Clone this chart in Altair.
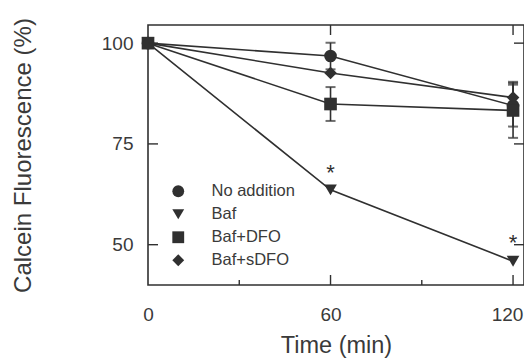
import altair as alt
import pandas as pd

time = [0, 60, 120]
series = ["No addition", "Baf", "Baf+DFO", "Baf+sDFO"]
shapes = ["circle", "triangle-down", "square", "diamond"]

no_addition = [100, 96.8, 84.5]
no_addition_err = [0, 3.3, 5.2]
baf = [100, 63.6, 45.9]
baf_err = [0, 0, 0]
baf_dfo = [100, 84.9, 83.3]
baf_dfo_err = [0, 4.2, 6.8]
baf_sdfo = [100, 92.6, 86.5]
baf_sdfo_err = [0, 0, 3.9]

star_time = [60, 120]
star_value = [69.0, 51.7]

x_major = [60, 120]
x_minor = [30, 90]
y_major = [50, 75, 100]

INK = "#303030"
TXT = "#3a3a3a"

rows = []
for name, vals, errs in [
    ("No addition", no_addition, no_addition_err),
    ("Baf", baf, baf_err),
    ("Baf+DFO", baf_dfo, baf_dfo_err),
    ("Baf+sDFO", baf_sdfo, baf_sdfo_err),
]:
    for t, v, e in zip(time, vals, errs):
        rows.append({"series": name, "time": t, "value": v, "err": e,
                     "lo": v - e, "hi": v + e})
df = pd.DataFrame(rows)
df_err = df[df["err"] > 0]

stars = pd.DataFrame({"time": star_time, "value": star_value, "s": ["*"] * len(star_time)})
xmaj = pd.DataFrame({"time": x_major})
xmin = pd.DataFrame({"time": x_minor})
ymaj = pd.DataFrame({"value": y_major})

W, H = 376, 260

x_enc = alt.X(
    "time:Q",
    scale=alt.Scale(domain=[0, 123.6], nice=False),
    axis=alt.Axis(values=[0, 60, 120], ticks=False, tickSize=0, domain=False, grid=False,
                  labelFontSize=19, labelPadding=20, labelFlush=False,
                  labelOffset={"condition": {"test": "datum.value == 120", "value": -6},
                               "value": 0},
                  title="Time (min)", titleFontSize=23.5, titleFontWeight="normal",
                  titlePadding=9),
)
y_enc = alt.Y(
    "value:Q",
    scale=alt.Scale(domain=[40, 104.5], nice=False, zero=False),
    axis=alt.Axis(values=[50, 75, 100], ticks=False, tickSize=0, domain=False, grid=False,
                  labelFontSize=19, labelPadding=15, labelFlush=False,
                  title="Calcein Fluorescence (%)", titleFontSize=24,
                  titleFontWeight="normal", titlePadding=66),
)

base = alt.Chart(df)

lines = base.mark_line(color=INK, strokeWidth=1.6).encode(
    x=x_enc, y=y_enc, detail="series:N", order="time:Q"
)

err_rules = alt.Chart(df_err).mark_rule(color=INK, strokeWidth=1.6).encode(
    x="time:Q", y="lo:Q", y2="hi:Q"
)
cap_hi = alt.Chart(df_err).mark_tick(color=INK, orient="horizontal", size=10, thickness=2).encode(
    x="time:Q", y="hi:Q"
)
cap_lo = alt.Chart(df_err).mark_tick(color=INK, orient="horizontal", size=10, thickness=2).encode(
    x="time:Q", y="lo:Q"
)

points = base.mark_point(filled=True, color=INK, opacity=1, size=160).encode(
    x="time:Q",
    y="value:Q",
    shape=alt.Shape(
        "series:N",
        scale=alt.Scale(domain=series, range=shapes),
        legend=alt.Legend(
            orient="none", legendX=22, legendY=158, title=None,
            labelFontSize=16.5, labelColor=TXT, labelFont="Liberation Sans",
            symbolSize=140, symbolFillColor=INK, symbolStrokeColor=INK,
            symbolStrokeWidth=0, labelOffset=25, rowPadding=6,
        ),
    ),
)

star_text = alt.Chart(stars).mark_text(
    color=INK, fontSize=22, baseline="alphabetic", dy=12, font="Liberation Sans"
).encode(x="time:Q", y="value:Q", text="s:N")

tick_bottom = alt.Chart(xmaj).mark_rule(color=INK, strokeWidth=1.4).encode(
    x="time:Q", y=alt.value(H), y2=alt.value(H - 10)
)
tick_top = alt.Chart(xmaj).mark_rule(color=INK, strokeWidth=1.4).encode(
    x="time:Q", y=alt.value(0), y2=alt.value(10)
)
tick_minor = alt.Chart(xmin).mark_rule(color=INK, strokeWidth=1.4).encode(
    x="time:Q", y=alt.value(H), y2=alt.value(H - 5)
)
tick_left = alt.Chart(ymaj).mark_rule(color=INK, strokeWidth=1.4).encode(
    y="value:Q", x=alt.value(0), x2=alt.value(10)
)
tick_right = alt.Chart(ymaj).mark_rule(color=INK, strokeWidth=1.4).encode(
    y="value:Q", x=alt.value(W), x2=alt.value(W - 10)
)

chart = alt.layer(
    lines, err_rules, cap_hi, cap_lo, points, star_text,
    tick_bottom, tick_top, tick_minor, tick_left, tick_right,
).properties(
    width=W, height=H,
    autosize=alt.AutoSizeParams(type="none"),
    padding={"left": 140, "top": 17, "right": 0, "bottom": 73},
    background="white",
).configure_view(
    stroke=INK, strokeWidth=1.6
).configure_axis(
    labelColor=TXT, titleColor=TXT, labelFont="Liberation Sans", titleFont="Liberation Sans"
)

chart.save("out.html", embed_options={"renderer": "svg", "actions": False})
